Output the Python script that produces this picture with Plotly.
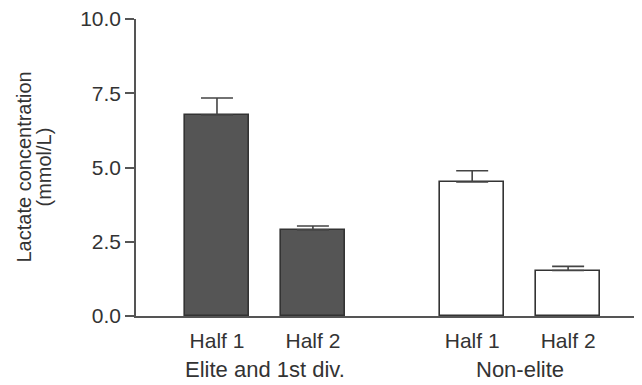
import plotly.graph_objects as go

groups = ["Elite and 1st div.", "Non-elite"]
halves = ["Half 1", "Half 2"]
means = [[6.77, 2.90], [4.51, 1.53]]
errors = [[0.57, 0.13], [0.38, 0.14]]
fills = ["#555555", "#ffffff"]
y_ticks = [0.0, 2.5, 5.0, 7.5, 10.0]
y_title = ["Lactate concentration", "(mmol/L)"]

GROUP_GAP = 2.66
BAR_W = 0.667
FONT = "Liberation Sans, Arial, sans-serif"
TXT = "#333333"
AX = "#555555"

fig = go.Figure()
tickvals, ticktext = [], []
for gi, g in enumerate(groups):
    xs = [gi * GROUP_GAP + hi for hi in range(len(halves))]
    tickvals += xs
    ticktext += halves
    fig.add_trace(go.Bar(
        x=xs, y=means[gi], width=BAR_W,
        marker=dict(color=fills[gi], line=dict(color="#333333", width=1.6)),
        error_y=dict(type="data", array=errors[gi], arrayminus=[0] * len(halves),
                     symmetric=False, color="#444444", thickness=1.6, width=16),
        showlegend=False, name=g,
    ))
    fig.add_annotation(
        x=sum(xs) / len(xs), xref="x", y=0, yref="paper", yanchor="middle",
        yshift=-53, text=g, showarrow=False,
        font=dict(family=FONT, size=22, color=TXT),
    )

for li, line in enumerate(y_title):
    fig.add_annotation(
        x=0, xref="paper", xanchor="center", xshift=-113 + 20 * li, y=0.5,
        yref="paper", yanchor="middle", text=line, textangle=-90,
        showarrow=False, font=dict(family=FONT, size=20, color=TXT),
    )

# page body adds an 8px offset, so the figure is sized to fit the window
fig.update_layout(
    width=634, height=377,
    margin=dict(l=128, r=0, t=11, b=69),
    paper_bgcolor="white", plot_bgcolor="white",
    bargap=0,
    font=dict(family=FONT, color=TXT),
)
fig.update_xaxes(
    range=[-0.844, GROUP_GAP + 1 + 0.77], tickvals=tickvals, ticktext=ticktext,
    ticks="", showline=True, linecolor=AX, linewidth=1.5, showgrid=False,
    zeroline=False, tickfont=dict(family=FONT, size=21, color=TXT),
    ticklabelstandoff=5,
)
fig.update_yaxes(
    range=[0, 10], tickvals=y_ticks, ticktext=[f"{v:.1f}" for v in y_ticks],
    ticks="outside", ticklen=9, tickcolor=AX, tickwidth=1.5,
    showline=True, linecolor=AX, linewidth=1.5, showgrid=False, zeroline=False,
    tickfont=dict(family=FONT, size=21, color=TXT),
    ticklabelstandoff=0, ticklabeloverflow="allow",
)

fig.write_html("out.html")
